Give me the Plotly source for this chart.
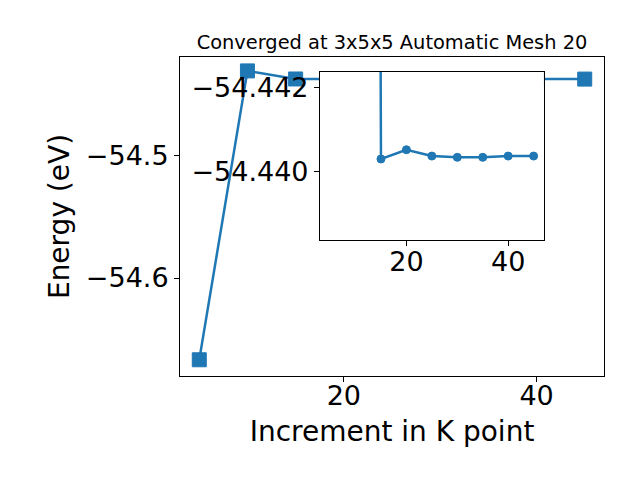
import plotly.graph_objects as go

# Main series
k_points = [5, 10, 15, 20, 25, 30, 35, 40, 45]
energy = [-54.667, -54.4303, -54.4369, -54.4371, -54.4370, -54.4370, -54.4370, -54.4370, -54.4370]

# Inset series (zoomed view, y-axis reversed as in the reference)
inset_k = [10, 15, 20, 25, 30, 35, 40, 45]
inset_energy = [-54.60, -54.44029, -54.44051, -54.44036, -54.44033, -54.44033, -54.44036, -54.44036]

main_xticks = [20, 40]
main_yticks = [-54.6, -54.5]
inset_xticks = [20, 40]
inset_yticks = [-54.442, -54.440]

BLUE = "#1f77b4"
FONT = "DejaVu Sans"

fig = go.Figure()
fig.add_trace(go.Scatter(
    x=k_points, y=energy, mode="lines+markers",
    line=dict(color=BLUE, width=2.5),
    marker=dict(symbol="square", size=14, color=BLUE, line=dict(color=BLUE, width=1)),
    xaxis="x", yaxis="y", showlegend=False, cliponaxis=False,
))
fig.add_trace(go.Scatter(
    x=inset_k, y=inset_energy, mode="lines+markers",
    line=dict(color=BLUE, width=2.5),
    marker=dict(symbol="circle", size=8, color=BLUE, line=dict(color=BLUE, width=1)),
    xaxis="x2", yaxis="y2", showlegend=False,
))

x_lo, x_hi = 3, 47
# white background for inset (covers main traces beneath it)
fig.add_shape(type="rect", xref="x2", yref="y2", x0=x_lo, x1=x_hi,
              y0=-54.43836, y1=-54.44236, fillcolor="white",
              line=dict(width=0), layer="below")

axis_common = dict(showline=True, linecolor="black", linewidth=1, mirror=True,
                   ticks="outside", ticklen=5, tickwidth=1, tickcolor="black",
                   showgrid=False, zeroline=False, automargin=False,
                   tickfont=dict(family=FONT, size=27, color="black"))

fig.update_layout(
    width=640, height=480,
    margin=dict(l=180, r=36, t=57, b=104, autoexpand=False),
    paper_bgcolor="white", plot_bgcolor="white",
    font=dict(family=FONT, color="black"),
    title=dict(text="Converged at 3x5x5 Automatic Mesh 20",
               font=dict(family=FONT, size=19.4, color="black"),
               x=0.5, xref="paper", xanchor="center",
               y=1 - 42 / 480, yref="container", yanchor="middle"),
    xaxis=dict(range=[x_lo, x_hi], tickvals=main_xticks, domain=[0, 1],
               ticklabelstandoff=-9,
               title=dict(text="Increment in K point",
                          font=dict(family=FONT, size=28, color="black"), standoff=10),
               anchor="y", **axis_common),
    yaxis=dict(range=[-54.6803, -54.4189], tickvals=main_yticks, tickformat=".1f",
               domain=[0, 1],
               title=dict(text="Energy (eV)",
                          font=dict(family=FONT, size=28, color="black"), standoff=8),
               anchor="x", **axis_common),
    xaxis2=dict(range=[x_lo, x_hi], tickvals=inset_xticks, domain=[0.330, 0.858],
                ticklabelstandoff=-8,
                anchor="y2", **axis_common),
    yaxis2=dict(range=[-54.43836, -54.44236], tickvals=inset_yticks, tickformat=".3f",
                domain=[0.426, 0.953], anchor="x2", **axis_common),
)

fig.write_html("out.html", config={"displayModeBar": False},
               post_script="document.body.style.margin='0';")
